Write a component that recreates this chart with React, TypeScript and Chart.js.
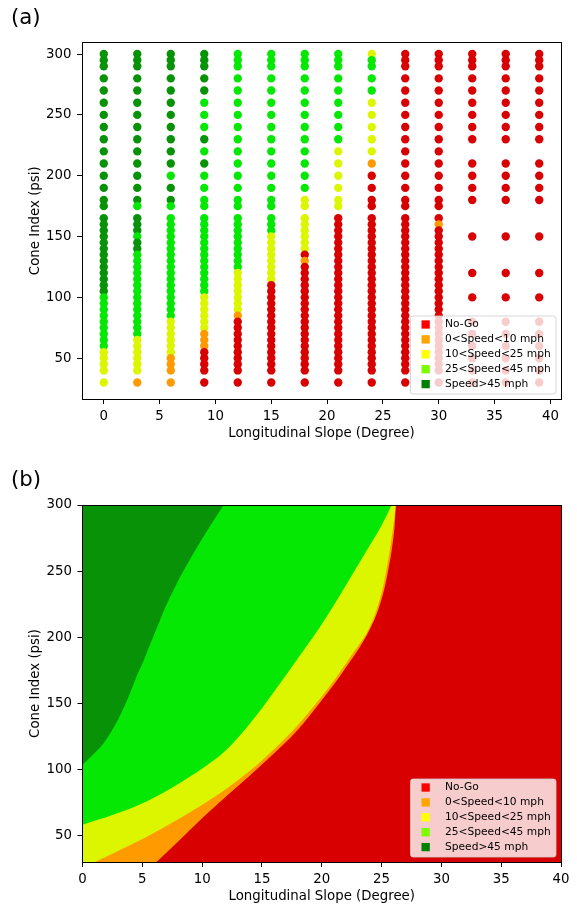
import React, { useEffect, useRef } from 'react';
import { Chart, registerables } from 'chart.js';

Chart.register(...registerables);

const FONT = "'DejaVu Sans', 'Liberation Sans', sans-serif";

// ---------- shared legend / palette ----------
const legendLabels = ['No-Go', '0<Speed<10 mph', '10<Speed<25 mph', '25<Speed<45 mph', 'Speed>45 mph'];
const legendColors = ['#ff0000', '#ffa500', '#ffff00', '#7cfc00', '#008000'];
const classColors = ['#d80000', '#ff9b00', '#dcf600', '#04e804', '#089208'];

// ---------- panel (a): measured points ----------
const slopes = [0, 3, 6, 9, 12, 15, 18, 21, 24, 27, 30, 33, 36, 39];
const ciDense = [30, 40, 45, 50, 55, 60, 65, 70, 75, 80, 85, 90, 95, 100, 105, 110, 115, 120, 125, 130, 135, 140, 145, 150, 155, 160, 165, 175, 180, 190, 200, 210, 220, 230, 240, 250, 260, 270, 280, 290, 295, 300];
const ciSparse = [30, 40, 50, 60, 70, 80, 100, 120, 150, 180, 190, 200, 210, 230, 240, 250, 260, 270, 280, 290, 295, 300];
const denseColumnMaxSlope = 30;

// class runs per column: [ciLow, ciHigh, class] (0 No-Go ... 4 >45 mph)
const col0 = [[30, 55, 2], [60, 100, 3], [105, 300, 4]];
const col3 = [[30, 30, 1], [40, 65, 2], [70, 135, 3], [140, 145, 4], [150, 150, 3], [155, 165, 4], [175, 175, 3], [180, 300, 4]];
const col6 = [[30, 50, 1], [55, 80, 2], [85, 175, 3], [180, 190, 4], [200, 200, 3], [210, 300, 4]];
const col9 = [[30, 55, 0], [60, 70, 1], [75, 100, 2], [105, 200, 3], [210, 210, 4], [220, 220, 3], [230, 230, 4], [240, 260, 3], [270, 300, 4]];
const col12 = [[30, 80, 0], [85, 85, 1], [90, 120, 2], [125, 300, 3]];
const col15 = [[30, 110, 0], [115, 150, 2], [155, 300, 3]];
const col18 = [[30, 125, 0], [130, 130, 1], [135, 135, 0], [140, 180, 2], [190, 300, 3]];
const col21 = [[30, 165, 0], [175, 220, 2], [230, 300, 3]];
const col24 = [[30, 200, 0], [210, 210, 1], [220, 260, 2], [270, 295, 3], [300, 300, 2]];
const col27 = [[30, 300, 0]];
const col30 = [[30, 155, 0], [160, 160, 1], [165, 300, 0]];
const col33 = [[30, 300, 0]];
const col36 = [[30, 300, 0]];
const col39 = [[30, 300, 0]];
const columnRuns = [col0, col3, col6, col9, col12, col15, col18, col21, col24, col27, col30, col33, col36, col39];

// ---------- panel (b): region boundaries ----------
const darkGreenEdgeX = [0, 0.75, 1.78, 2.5, 3.1, 3.62, 4.08, 4.5, 5.0, 5.45, 5.9, 6.35, 6.8, 7.3, 7.85, 8.43, 9.05, 9.7, 10.38, 11.08, 11.81];
const darkGreenEdgeY = [103.5, 110, 120, 130, 140, 150, 160, 170, 180, 190, 200, 210, 220, 230, 240, 250, 260, 270, 280, 290, 300];
const greenEdgeX = [0, 2.56, 5.35, 8.14, 10.92, 12.32, 13.71, 15.1, 16.22, 18, 19.84, 21.24, 22.63, 24.02, 25.0, 25.84];
const greenEdgeY = [58.2, 65.7, 75.8, 89.7, 106.5, 117.4, 131.5, 147.5, 161.5, 184, 207.5, 227.5, 248.5, 269.5, 284.5, 300];
const yellowEdgeX = [0, 1.03, 3, 5.35, 8.14, 10.92, 13.71, 15.38, 17.89, 19.84, 21, 22, 23, 23.75, 24.58, 25.13, 25.42, 25.69, 25.97, 26.2];
const yellowEdgeY = [25.5, 30, 38.5, 49, 63, 78.5, 97, 110, 132.5, 153.5, 167, 180, 193, 203, 220.7, 238.3, 252, 266, 283.6, 300];
const orangeEdgeX = [0, 6.19, 8, 10, 12, 14, 16, 18, 19.84, 21, 22, 23, 24, 24.72, 25.28, 25.6, 25.85, 26.08, 26.2];
const orangeEdgeY = [-23, 30, 45.5, 63, 79.5, 95.5, 112, 130, 150.5, 164, 177, 190, 205.6, 220.7, 238.3, 253, 266, 283, 300];
const redBaseX = [0, 40];
const redBaseY = [30, 30];

const xTicks = [0, 5, 10, 15, 20, 25, 30, 35, 40];
const yTicks = [50, 100, 150, 200, 250, 300];

// ---------- helpers ----------
function classOf(runs: number[][], ci: number) {
  for (const [lo, hi, c] of runs) if (ci >= lo && ci <= hi) return c;
  return 0;
}

function buildScatter() {
  const pts: { x: number; y: number }[] = [];
  const cols: string[] = [];
  slopes.forEach((s, i) => {
    const levels = s <= denseColumnMaxSlope ? ciDense : ciSparse;
    [...levels].reverse().forEach((ci) => {
      pts.push({ x: s, y: ci });
      cols.push(classColors[classOf(columnRuns[i], ci)]);
    });
  });
  return { pts, cols };
}

const zip = (xs: number[], ys: number[]) => xs.map((x, i) => ({ x, y: ys[i] }));

function axis(title: string, min: number, max: number, ticks: number[], horizontal: boolean, size: number) {
  return {
    type: 'linear',
    min,
    max,
    afterBuildTicks: (scale: any) => {
      scale.ticks = ticks.map((v) => ({ value: v }));
    },
    afterFit: (scale: any) => {
      if (horizontal) scale.height = size;
      else scale.width = size;
    },
    grid: { display: true, drawOnChartArea: false, drawTicks: true, tickLength: 5, color: '#000', lineWidth: 1 },
    border: { display: false },
    ticks: {
      color: '#000',
      font: { family: FONT, size: 13.33 },
      padding: horizontal ? 4.5 : 5.5,
      autoSkip: false,
      maxRotation: 0,
      minRotation: 0,
      callback: (v: any) => String(v),
    },
    title: { display: true, text: title, color: '#000', font: { family: FONT, size: 13.33 }, padding: 0 },
  };
}

function decorPlugin(panelLabel: string, labelBaseline: number) {
  return {
    id: 'decor',
    afterDatasetsDraw(chart: any) {
      const { ctx, chartArea: ca } = chart;
      ctx.save();
      // legend
      const w = 145.5;
      const h = 78;
      const x0 = ca.right - 5 - w;
      const y0 = ca.bottom - 5 - h;
      ctx.beginPath();
      if (ctx.roundRect) ctx.roundRect(x0, y0, w, h, 2.5);
      else ctx.rect(x0, y0, w, h);
      ctx.fillStyle = 'rgba(255,255,255,0.8)';
      ctx.fill();
      ctx.strokeStyle = 'rgba(204,204,204,0.8)';
      ctx.lineWidth = 1;
      ctx.stroke();
      ctx.font = `10.67px ${FONT}`;
      ctx.textBaseline = 'middle';
      ctx.textAlign = 'left';
      legendLabels.forEach((lab, i) => {
        const cy = y0 + 8.5 + 14.9 * i;
        ctx.fillStyle = legendColors[i];
        ctx.fillRect(x0 + 11, cy - 4.15, 8.3, 8.3);
        ctx.fillStyle = '#000';
        ctx.fillText(lab, x0 + 34.5, cy);
      });
      // frame
      const l = Math.floor(ca.left) + 0.5;
      const r = Math.floor(ca.right) + 0.5;
      const t = Math.floor(ca.top) + 0.5;
      const b = Math.floor(ca.bottom) + 0.5;
      ctx.strokeStyle = '#000';
      ctx.lineWidth = 1;
      ctx.strokeRect(l, t, r - l, b - t);
      // panel label
      ctx.font = `21.3px ${FONT}`;
      ctx.textBaseline = 'alphabetic';
      ctx.fillStyle = '#000';
      ctx.fillText(panelLabel, 11, labelBaseline);
      ctx.restore();
    },
  };
}

function scatterConfig(): any {
  const { pts, cols } = buildScatter();
  return {
    type: 'scatter',
    data: {
      datasets: [
        {
          data: pts,
          backgroundColor: cols,
          borderWidth: 0,
          pointRadius: 4.2,
          pointHoverRadius: 4.2,
        },
      ],
    },
    options: {
      responsive: false,
      animation: false,
      events: [],
      layout: { padding: { left: 28, right: 16, top: 42.5, bottom: 8.3 } },
      plugins: { legend: { display: false }, tooltip: { enabled: false } },
      scales: {
        x: axis('Longitudinal Slope (Degree)', -1.95, 40.95, xTicks, true, 42.7),
        y: axis('Cone Index (psi)', 16.5, 309.5, yTicks, false, 54),
      },
    },
    plugins: [decorPlugin('(a)', 23.5)],
  };
}

function regionConfig(): any {
  const common = {
    borderWidth: 0,
    pointRadius: 0,
    pointHoverRadius: 0,
    fill: 'end',
    cubicInterpolationMode: 'monotone',
  };
  return {
    type: 'line',
    data: {
      datasets: [
        { ...common, label: legendLabels[4], data: zip(darkGreenEdgeX, darkGreenEdgeY), backgroundColor: classColors[4] },
        { ...common, label: legendLabels[3], data: zip(greenEdgeX, greenEdgeY), backgroundColor: classColors[3] },
        { ...common, label: legendLabels[2], data: zip(yellowEdgeX, yellowEdgeY), backgroundColor: classColors[2] },
        { ...common, label: legendLabels[1], data: zip(orangeEdgeX, orangeEdgeY), backgroundColor: classColors[1] },
        { ...common, label: legendLabels[0], data: zip(redBaseX, redBaseY), backgroundColor: classColors[0] },
      ],
    },
    options: {
      responsive: false,
      animation: false,
      events: [],
      layout: { padding: { left: 28, right: 16, top: 55, bottom: 4.3 } },
      plugins: { legend: { display: false }, tooltip: { enabled: false } },
      scales: {
        x: axis('Longitudinal Slope (Degree)', 0, 40, xTicks, true, 42.7),
        y: axis('Cone Index (psi)', 30, 300, yTicks, false, 54.5),
      },
    },
    plugins: [decorPlugin('(b)', 36)],
  };
}

function ChartCanvas({ makeConfig, width, height }: { makeConfig: () => any; width: number; height: number }) {
  const ref = useRef<HTMLCanvasElement | null>(null);
  useEffect(() => {
    if (!ref.current) return;
    const chart = new Chart(ref.current, makeConfig());
    return () => chart.destroy();
  }, []);
  return <canvas ref={ref} width={width} height={height} style={{ display: 'block', width, height }} />;
}

export default function App() {
  return (
    <div style={{ position: 'absolute', left: 0, top: 0, width: 577, height: 909, background: '#fff' }}>
      <ChartCanvas makeConfig={scatterConfig} width={577} height={450} />
      <ChartCanvas makeConfig={regionConfig} width={577} height={459} />
    </div>
  );
}
